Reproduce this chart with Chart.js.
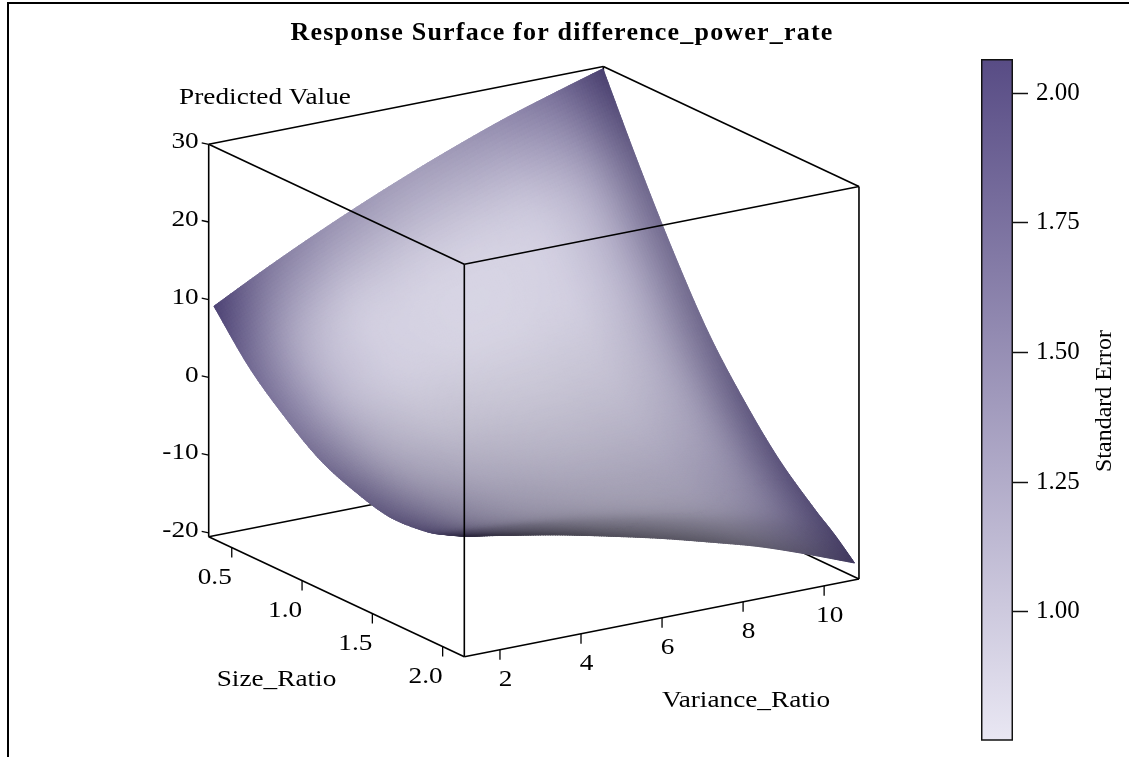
<!DOCTYPE html>
<html><head><meta charset="utf-8">
<script src="https://cdn.jsdelivr.net/npm/chart.js@4"></script>
<style>
html,body{margin:0;padding:0;background:#fff;overflow:hidden}
#frame{position:absolute;left:7px;top:2px;width:1122px;height:755px;border-left:2px solid #000;border-top:2px solid #000;box-sizing:border-box}
canvas{position:absolute;display:block}
#main{left:0;top:0}
#bar{left:970px;top:0}
</style></head><body>
<div id="frame"></div>
<canvas id="main" width="1129" height="757"></canvas>
<canvas id="bar" width="159" height="757"></canvas>
<script>
// ---------- data ----------
const titleText = "Response Surface for difference_power_rate";
const varianceValues = [1.2,2.4,3.6,4.8,6.0,7.2,8.4,9.6,10.8];
const sizeValues = [0.35,0.6,0.85,1.1,1.35,1.6,1.85,2.0,2.14];
const predicted = [
 [ 9.2,12.5,15.6,18.5,21.2,23.7,26.0,28.0,29.9],
 [ 3.5, 6.2, 8.8,11.1,13.3,15.2,17.0,18.5,19.9],
 [-0.7, 1.4, 3.3, 5.0, 6.5, 7.8, 8.9, 9.9,10.6],
 [-4.1,-2.6,-1.3,-0.3, 0.7, 1.3, 1.9, 2.2, 2.3],
 [-6.1,-5.2,-4.5,-3.9,-3.6,-3.5,-3.5,-3.8,-4.2],
 [-7.3,-6.9,-6.7,-6.8,-7.0,-7.4,-7.9,-8.7,-9.7],
 [-7.0,-7.2,-7.6,-8.1,-8.9,-9.9,-11.0,-12.4,-13.9],
 [-6.2,-6.8,-7.5,-8.5,-9.6,-11.0,-12.5,-14.2,-16.1],
 [-5.2,-6.3,-7.5,-8.9,-10.4,-12.1,-13.9,-16.1,-18.5]
];
const standardError = [
 [2.06,1.62,1.42,1.32,1.28,1.34,1.47,1.68,2.06],
 [1.72,1.22,1.00,0.95,0.93,0.94,1.02,1.25,1.72],
 [1.60,1.12,0.93,0.88,0.86,0.88,0.95,1.18,1.62],
 [1.62,1.14,0.95,0.90,0.88,0.90,0.97,1.20,1.65],
 [1.70,1.22,1.05,0.98,0.96,0.98,1.05,1.26,1.75],
 [1.78,1.35,1.15,1.08,1.06,1.08,1.16,1.36,1.82],
 [1.85,1.40,1.20,1.12,1.10,1.12,1.22,1.46,1.88],
 [1.90,1.45,1.24,1.16,1.14,1.16,1.26,1.54,1.92],
 [1.95,1.50,1.28,1.20,1.18,1.20,1.30,1.60,2.00]
];
const zTicks = [30,20,10,0,-10,-20];
const sizeTicks = [0.5,1.0,1.5,2.0];
const varianceTicks = [2,4,6,8,10];
const seTicks = [1.00,1.25,1.50,1.75,2.00];
const varianceRange = [1.12,10.86];
const sizeRange = [0.336,2.154];
const zRange = [-20.5,30];
const seRange = [0.751,2.066];

// ---------- view (orthographic projection of the 3D box) ----------
const VIEW = {x0:208.7,y0:144.3,xs:140.6,ys:66.0,xv:40.52,yv:-7.98,yz:7.77};
function project(v,s,z){
  const ds=s-sizeRange[0], dv=v-varianceRange[0];
  return {x:VIEW.x0+ds*VIEW.xs+dv*VIEW.xv, y:VIEW.y0+(zRange[1]-z)*VIEW.yz+ds*VIEW.ys+dv*VIEW.yv};
}
const [v0,v1]=varianceRange,[s0,s1]=sizeRange,[z0,z1]=zRange;
const INK='#000', FONT='"Liberation Serif"';
const LIGHT=[233,231,243], DARK=[88,76,133];
const rowShade=[0.93,0.97,0.97,0.92,0.88,0.84,0.77,0.6,0.42];
const colFade=[0.9,1,1,0.95,0.9,0.85,0.75,0.6,0.35];
const colShade=[0.93,0.98,1,1,1,1,1,0.97,0.86];

function edge(a,b){return {data:[project(...a),project(...b)],type:'scatter',showLine:true,pointRadius:0,borderColor:INK,borderWidth:1.6,tension:0};}
function back(e){e.order=3;return e;}
function front(e){e.order=1;return e;}
const datasets=[];
// back edges (hidden by the surface)
datasets.push(back(edge([v0,s0,z0],[v1,s0,z0])));
datasets.push(back(edge([v1,s0,z0],[v1,s1,z0])));
datasets.push(back(edge([v1,s0,z0],[v1,s0,z1])));
// surface nodes
const nodes=[];
sizeValues.forEach((s,r)=>varianceValues.forEach((v,c)=>nodes.push(project(v,s,predicted[r][c]))));
datasets.push({label:'surface',surface:true,data:nodes,type:'scatter',pointRadius:0,showLine:false,order:2});
// front edges
[[[v0,s0,z1],[v1,s0,z1]],[[v1,s0,z1],[v1,s1,z1]],[[v0,s0,z1],[v0,s1,z1]],[[v0,s1,z1],[v1,s1,z1]],
 [[v0,s0,z0],[v0,s0,z1]],[[v0,s1,z0],[v0,s1,z1]],[[v1,s1,z0],[v1,s1,z1]],
 [[v0,s0,z0],[v0,s1,z0]],[[v0,s1,z0],[v1,s1,z0]]].forEach(e=>datasets.push(front(edge(e[0],e[1]))));
// tick marks
function tickDs(p,dx,dy){return front({data:[p,{x:p.x+dx,y:p.y+dy}],type:'scatter',showLine:true,pointRadius:0,borderColor:INK,borderWidth:1.3});}
zTicks.forEach(z=>datasets.push(tickDs(project(v0,s0,z),-7,-1.5)));
sizeTicks.forEach(s=>datasets.push(tickDs(project(v0,s,z0),0,10)));
varianceTicks.forEach(v=>datasets.push(tickDs(project(v,s1,z0),0,10)));

function cr(a,b,c,d,t){return 0.5*((2*b)+(c-a)*t+(2*a-5*b+4*c-d)*t*t+(3*b-a-3*c+d)*t*t*t);}
function refine(arr,n){
  const L=arr.length,out=[];
  for(let i=0;i<L-1;i++){
    const a=i>0?arr[i-1]:2*arr[0]-arr[1],b=arr[i],c=arr[i+1],d=i<L-2?arr[i+2]:2*arr[L-1]-arr[L-2];
    for(let k=0;k<n;k++)out.push(cr(a,b,c,d,k/n));
  }
  out.push(arr[L-1]);return out;
}
function refineGrid(g,n){
  const rows=g.map(r=>refine(r,n));
  const W=rows[0].length,cols=[];
  for(let c=0;c<W;c++)cols.push(refine(rows.map(r=>r[c]),n));
  return cols; // cols[c][r]
}
function colour(se,shade){
  const t=Math.max(0,Math.min(1,(se-seRange[0])/(seRange[1]-seRange[0])));
  const sh=Math.max(0,Math.min(1,shade));
  const m=i=>Math.round((LIGHT[i]+(DARK[i]-LIGHT[i])*t)*sh);
  return `rgb(${m(0)},${m(1)},${m(2)})`;
}
const meshPlugin={id:'mesh',
 beforeDraw(chart){chart.ctx.letterSpacing='1.2px';},
 afterDatasetDraw(chart,args){
  const ds=chart.data.datasets[args.index];
  if(!ds.surface)return;
  const pts=args.meta.data,R=sizeValues.length,C=varianceValues.length,n=20;
  const gx=[],gy=[],gs=[],gh=[];
  for(let r=0;r<R;r++){gx.push([]);gy.push([]);gs.push([]);gh.push([]);
    for(let c=0;c<C;c++){const e=pts[r*C+c];gx[r].push(e.x);gy[r].push(e.y);gs[r].push(standardError[r][c]);gh[r].push((1-(1-rowShade[r])*colFade[c])*colShade[c]);}}
  const X=refineGrid(gx,n),Y=refineGrid(gy,n),S=refineGrid(gs,n),H=refineGrid(gh,n);
  const ctx=chart.ctx;ctx.save();ctx.lineWidth=0.7;ctx.lineJoin='round';
  const W=X.length,Hh=X[0].length;
  // painted twice so the box edges behind the surface cannot show through the cell seams
  for(let pass=0;pass<2;pass++)
  for(let r=0;r<Hh-1;r++)for(let c=0;c<W-1;c++){
    const col=colour((S[c][r]+S[c+1][r]+S[c][r+1]+S[c+1][r+1])/4,(H[c][r]+H[c+1][r]+H[c][r+1]+H[c+1][r+1])/4);
    ctx.fillStyle=col;ctx.strokeStyle=col;ctx.beginPath();
    ctx.moveTo(X[c][r],Y[c][r]);ctx.lineTo(X[c+1][r],Y[c+1][r]);ctx.lineTo(X[c+1][r+1],Y[c+1][r+1]);ctx.lineTo(X[c][r+1],Y[c][r+1]);ctx.closePath();ctx.fill();ctx.stroke();
  }
  ctx.restore();
}};
const TEXT_STRETCH=1.16;
function stretchedText(ctx,str,px,py,align,size){
  ctx.save();ctx.letterSpacing='0px';ctx.translate(px,py);ctx.scale(TEXT_STRETCH,1);
  ctx.font=`${size}px ${FONT}`;ctx.fillStyle=INK;ctx.textAlign=align;ctx.textBaseline='middle';
  ctx.fillText(str,0,0);ctx.restore();
}
const labelPlugin={id:'labels',afterDraw(chart){
  const ctx=chart.ctx,sx=chart.scales.x,sy=chart.scales.y,F=23.5;
  const at=p=>({x:sx.getPixelForValue(p.x),y:sy.getPixelForValue(p.y)});
  zTicks.forEach(z=>{const p=at(project(v0,s0,z));stretchedText(ctx,String(z),p.x-10,p.y-2,'right',F);});
  sizeTicks.forEach(s=>{const p=at(project(v0,s,z0));stretchedText(ctx,s.toFixed(1),p.x-17,p.y+30,'center',F);});
  varianceTicks.forEach(v=>{const p=at(project(v,s1,z0));stretchedText(ctx,String(v),p.x+5.5,p.y+30.5,'center',F);});
  stretchedText(ctx,'Predicted Value',265,98,'center',F);
  stretchedText(ctx,'Size_Ratio',276.5,680,'center',F);
  stretchedText(ctx,'Variance_Ratio',746,701,'center',F);
}};
new Chart(document.getElementById('main'),{
  type:'scatter',
  data:{datasets},
  plugins:[meshPlugin,labelPlugin],
  options:{responsive:false,animation:false,devicePixelRatio:1,
    layout:{padding:{left:0,right:5,top:0,bottom:0}},
    plugins:{legend:{display:false},tooltip:{enabled:false},
      title:{display:true,text:titleText,color:INK,font:{family:FONT,size:26,weight:'bold',lineHeight:1.2},padding:{top:17.4,bottom:11.4}}},
    scales:{x:{type:'linear',display:false,min:0,max:1124},y:{type:'linear',display:false,min:60,max:757,reverse:true}}
  }
});
// colour bar
const barTitlePlugin={id:'barTitle',afterDraw(chart){
  const ctx=chart.ctx;ctx.save();ctx.translate(135,401);ctx.rotate(-Math.PI/2);
  ctx.font=`24px ${FONT}`;ctx.fillStyle=INK;ctx.textAlign='center';ctx.textBaseline='middle';ctx.fillText('Standard Error',0,0);ctx.restore();
}};
new Chart(document.getElementById('bar'),{
  type:'bar',
  data:{labels:['Standard Error'],datasets:[{data:[seRange],barPercentage:1,categoryPercentage:1,borderColor:'#111',borderWidth:1.8,borderSkipped:false,
    backgroundColor(ctx){const a=ctx.chart.chartArea;if(!a)return 'rgb(160,150,190)';
      const g=ctx.chart.ctx.createLinearGradient(0,a.bottom,0,a.top);
      g.addColorStop(0,`rgb(${LIGHT})`);g.addColorStop(1,`rgb(${DARK})`);return g;}}]},
  options:{responsive:false,animation:false,devicePixelRatio:1,
    layout:{padding:{left:11,right:0,top:59,bottom:16.3}},
    plugins:{legend:{display:false},tooltip:{enabled:false}},
    scales:{
      x:{display:false,offset:true},
      y:{position:'right',min:seRange[0],max:seRange[1],
         afterBuildTicks(a){a.ticks=seTicks.map(v=>({value:v}));},
         afterFit(a){a.width=116;a.paddingTop=0;a.paddingBottom=0;},
         border:{display:false},
         grid:{drawOnChartArea:false,drawTicks:true,tickLength:15,tickWidth:1.5,tickColor:'#111'},
         ticks:{padding:8,color:INK,font:{family:FONT,size:25},callback:v=>Number(v).toFixed(2),autoSkip:false,maxRotation:0}}
    }
  },
  plugins:[barTitlePlugin]
});
</script>
</body></html>
